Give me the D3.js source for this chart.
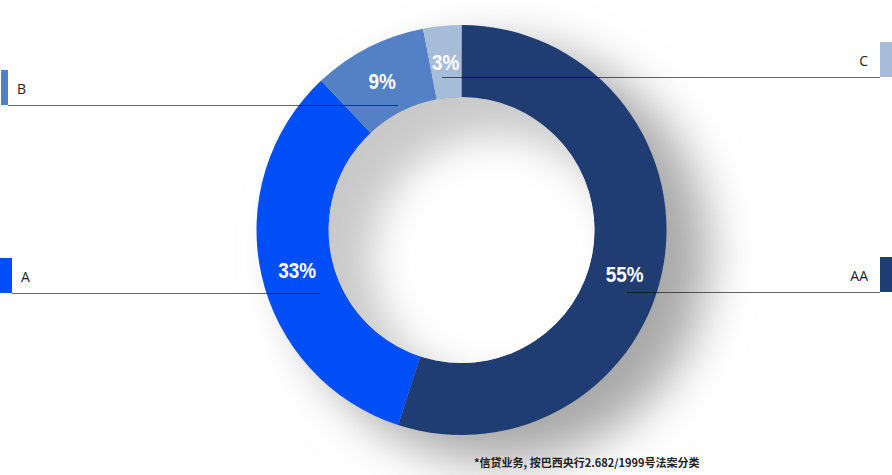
<!DOCTYPE html>
<html>
<head>
<meta charset="utf-8">
<script src="https://cdn.jsdelivr.net/npm/d3@7"></script>
<style>
  html, body { margin: 0; padding: 0; background: #fff; }
  svg { display: block; }
</style>
</head>
<body>
<svg id="chart" width="892" height="475"></svg>
<script>
// ---- data ----
const categories = ["AA", "A", "B", "C"];
const values = [55, 33, 9, 3];
const colors = ["#1f3d73", "#004ef7", "#5480c5", "#a7bcd9"];
const footnote = "*信贷业务, 按巴西央行2.682/1999号法案分类";

// ---- layout (positions, not data) ----
const W = 892, H = 475;
const cx = 461.5, cy = 230;
const outerR = 205, innerR = 133;
const legendLayout = {
  AA: { side: "right", y: 292, lineInner: 627, labelAngleShift: 6 },
  A:  { side: "left",  y: 293, lineInner: 320, labelAngleShift: -1 },
  B:  { side: "left",  y: 105, lineInner: 398, labelAngleShift: -1 },
  C:  { side: "right", y: 77,  lineInner: 442, labelAngleShift: 0 }
};

const svg = d3.select("#chart");
const defs = svg.append("defs");

const fShadow = defs.append("filter").attr("id", "blurShadow")
  .attr("x", "-50%").attr("y", "-50%").attr("width", "200%").attr("height", "200%");
fShadow.append("feGaussianBlur").attr("stdDeviation", 24);

const fHole = defs.append("filter").attr("id", "blurHole")
  .attr("x", "-50%").attr("y", "-50%").attr("width", "200%").attr("height", "200%");
fHole.append("feGaussianBlur").attr("stdDeviation", 20);

defs.append("clipPath").attr("id", "holeClip")
  .append("circle").attr("cx", cx).attr("cy", cy).attr("r", innerR);

// drop shadow behind donut
svg.append("circle")
  .attr("cx", cx + 38).attr("cy", cy + 24).attr("r", outerR + 4)
  .attr("fill", "#a8a8a8")
  .attr("filter", "url(#blurShadow)");

const g = svg.append("g").attr("transform", `translate(${cx},${cy})`);

const pie = d3.pie().sort(null).value(d => d.value);
const data = categories.map((c, i) => ({ cat: c, value: values[i], color: colors[i] }));
const arcs = pie(data);
const arc = d3.arc().innerRadius(innerR).outerRadius(outerR);

g.selectAll("path.slice").data(arcs).join("path")
  .attr("class", "slice")
  .attr("d", arc)
  .attr("fill", d => d.data.color);

// hole with inner shading
const hole = svg.append("g").attr("clip-path", "url(#holeClip)");
hole.append("circle").attr("cx", cx).attr("cy", cy).attr("r", innerR).attr("fill", "#c9c9c9");
hole.append("circle").attr("cx", cx + 35).attr("cy", cy + 30).attr("r", 125)
  .attr("fill", "#ffffff").attr("filter", "url(#blurHole)");

// legend markers, leader lines and labels
arcs.forEach(d => {
  const L = legendLayout[d.data.cat];
  const right = L.side === "right";
  const markerX = right ? W - 12 : (d.data.cat === "B" ? 1 : 0);
  const markerW = right ? 12 : (d.data.cat === "B" ? 7 : 12);
  svg.append("rect")
    .attr("x", markerX).attr("y", L.y - 35)
    .attr("width", markerW).attr("height", 35)
    .attr("fill", d.data.color);

  const x1 = right ? W - 12 : markerX + markerW;
  svg.append("line")
    .attr("x1", x1).attr("x2", L.lineInner)
    .attr("y1", L.y + 0.5).attr("y2", L.y + 0.5)
    .attr("stroke", "#000").attr("stroke-opacity", 0.6).attr("stroke-width", 1);

  svg.append("text")
    .attr("x", right ? W - 24 : markerX + markerW + 9)
    .attr("y", L.y - 11)
    .attr("text-anchor", right ? "end" : "start")
    .attr("font-family", "'Open Sans', 'Noto Sans', sans-serif")
    .attr("font-size", 14)
    .attr("fill", "#222")
    .text(d.data.cat);
});

// percentage labels (condensed bold)
const labelR = 169;
arcs.forEach(d => {
  const L = legendLayout[d.data.cat];
  const a = (d.startAngle + d.endAngle) / 2 + L.labelAngleShift * Math.PI / 180;
  const x = cx + labelR * Math.sin(a);
  const y = cy - labelR * Math.cos(a);
  svg.append("text")
    .attr("transform", `translate(${x},${y + 8}) scale(0.86,1)`)
    .attr("text-anchor", "middle")
    .attr("font-family", "'Liberation Sans', 'Arial', sans-serif")
    .attr("font-weight", "bold")
    .attr("font-size", 22)
    .attr("fill", "#fff")
    .text(d3.format(".0f")(d.data.value) + "%");
});

// footnote
svg.append("text")
  .attr("x", 474).attr("y", 467)
  .attr("font-family", "'Noto Sans CJK SC', sans-serif")
  .attr("font-weight", "bold")
  .attr("font-size", 11)
  .attr("fill", "#222")
  .text(footnote);
</script>
</body>
</html>
